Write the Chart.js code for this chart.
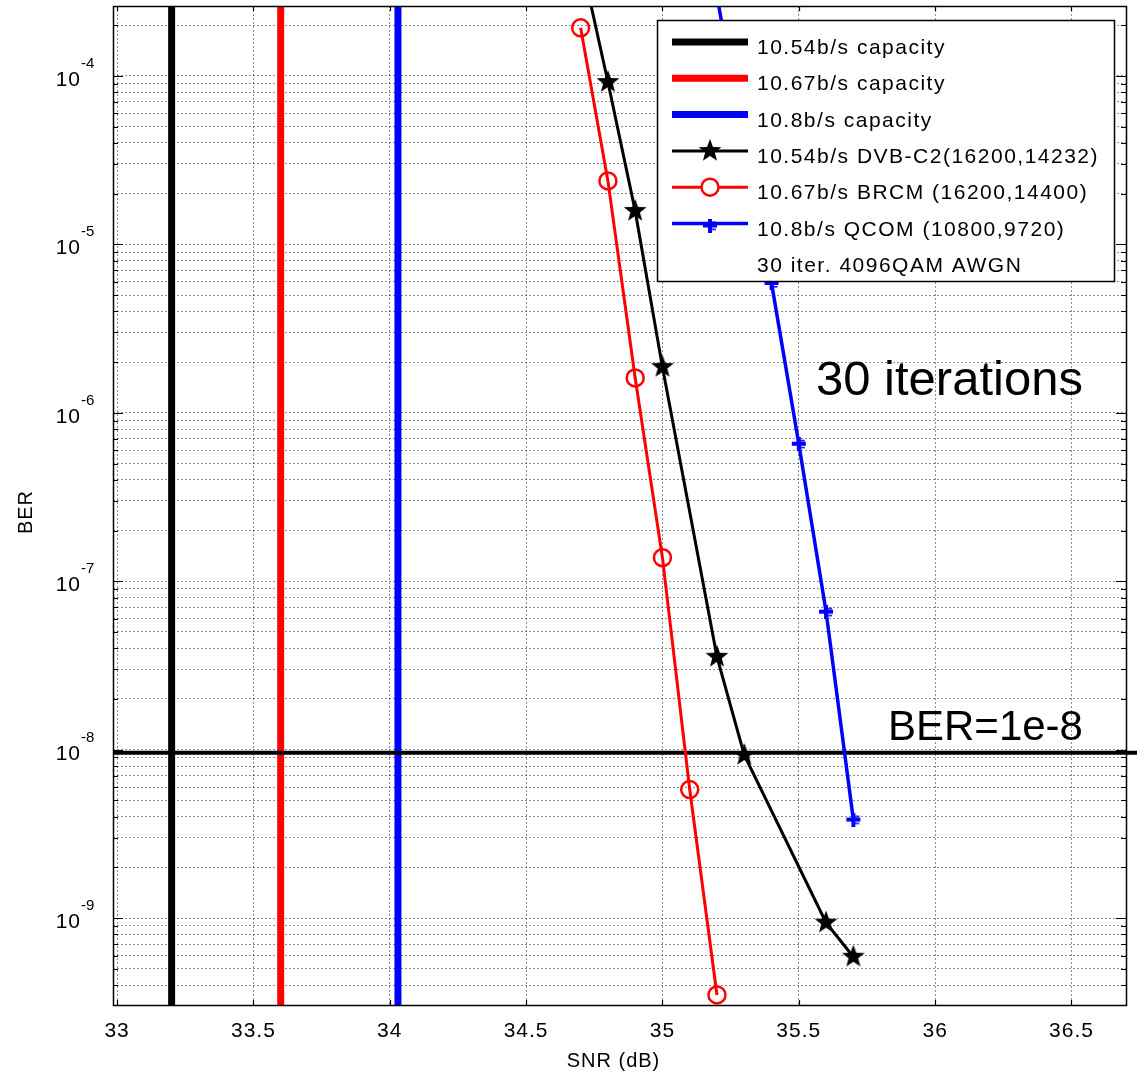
<!DOCTYPE html>
<html lang="en">
<head>
<meta charset="UTF-8">
<title>BER vs SNR - 4096QAM AWGN</title>
<script src="https://cdn.jsdelivr.net/npm/chart.js"></script>
<style>
  html, body { margin: 0; padding: 0; background: #ffffff; }
  #wrap { width: 1137px; height: 1076px; }
</style>
</head>
<body>
<div id="wrap"><canvas id="berChart" width="1137" height="1076"></canvas></div>
<script>
// ---- data ----
const xTicks = [33, 33.5, 34, 34.5, 35, 35.5, 36, 36.5];
const xTickLabels = ['33', '33.5', '34', '34.5', '35', '35.5', '36', '36.5'];
const yMajorExps = [-4, -5, -6, -7, -8, -9];

const capacitySNR = [33.2, 33.6, 34.03];
const capacityLabels = ['10.54b/s capacity', '10.67b/s capacity', '10.8b/s capacity'];

const snrDVB = [34.7, 34.8, 34.9, 35.0, 35.2, 35.3, 35.6, 35.7];
const berDVB = [5e-4, 9.2e-5, 1.58e-5, 1.87e-6, 3.56e-8, 9.3e-9, 9.4e-10, 5.9e-10];

const snrBRCM = [34.7, 34.8, 34.9, 35.0, 35.1, 35.2];
const berBRCM = [1.93e-4, 2.38e-5, 1.61e-6, 1.38e-7, 5.8e-9, 3.5e-10];

const snrQCOM = [35.2, 35.3, 35.4, 35.5, 35.6, 35.7];
const berQCOM = [3e-4, 3.5e-5, 5.9e-6, 6.55e-7, 6.6e-8, 3.85e-9];

const berTarget = 9.6e-9;
const seriesLabels = ['10.54b/s DVB-C2(16200,14232)', '10.67b/s BRCM (16200,14400)', '10.8b/s QCOM (10800,9720)'];
const noteLabel = '30 iter. 4096QAM AWGN';

const X_MIN = 32.985, X_MAX = 36.70;
const Y_MIN = 3.05e-10, Y_MAX = 2.6e-4;
const FONT = "'Liberation Sans', Arial, sans-serif";

// ---- marker images ----
function makeStar(r, color) {
    const s = Math.ceil(r * 2 + 2);
    const c = document.createElement('canvas');
    c.width = s; c.height = s;
    const g = c.getContext('2d');
    g.fillStyle = color;
    g.beginPath();
    for (let i = 0; i < 10; i++) {
        const a = -Math.PI / 2 + i * Math.PI / 5;
        const rad = i % 2 === 0 ? r : r * 0.42;
        g.lineTo(s / 2 + rad * Math.cos(a), s / 2 + rad * Math.sin(a));
    }
    g.closePath();
    g.fill();
    return c;
}

function makePlus(color) {
    const c = document.createElement('canvas');
    c.width = 16; c.height = 14;
    const g = c.getContext('2d');
    g.fillStyle = color;
    g.fillRect(1, 5, 14, 4);   // horizontal arm
    g.fillRect(6, 0, 4, 14);   // vertical arm
    g.fillRect(10, 3, 4, 1.5);
    g.fillRect(10, 10, 4, 1.5);
    return c;
}

const starImg = makeStar(12, '#000000');
const plusImg = makePlus('#0000ff');

const toPts = (xs, ys) => xs.map((x, i) => ({ x: x, y: ys[i] }));

// y ticks: all decades plus minor ticks inside the range
function buildYTicks() {
    const out = [];
    for (let e = -11; e <= -3; e++) {
        for (let k = 1; k <= 9; k++) {
            const v = k * Math.pow(10, e);
            if (v >= Y_MIN && v <= Y_MAX) out.push({ value: v, major: k === 1 });
        }
    }
    return out;
}

const capColors = ['#000000', '#ff0000', '#0000ff'];

const datasets = [
    {
        label: seriesLabels[0], data: toPts(snrDVB, berDVB),
        borderColor: '#000000', borderWidth: 3, pointStyle: starImg,
        pointRadius: 12, tension: 0
    },
    {
        label: seriesLabels[1], data: toPts(snrBRCM, berBRCM),
        borderColor: '#ff0000', borderWidth: 3, pointStyle: 'circle',
        pointRadius: 8.5, pointBorderWidth: 2.5, pointBorderColor: '#ff0000',
        pointBackgroundColor: 'rgba(0,0,0,0)', tension: 0
    },
    {
        label: seriesLabels[2], data: toPts(snrQCOM, berQCOM),
        borderColor: '#0000ff', borderWidth: 3.5, pointStyle: plusImg,
        pointRadius: 8, tension: 0
    },
    {
        label: 'BER=1e-8', data: [{ x: X_MIN, y: berTarget }, { x: 36.76, y: berTarget }],
        borderColor: '#000000', borderWidth: 4, pointRadius: 0, clip: false
    }
];
capacitySNR.forEach((s, i) => {
    datasets.push({
        label: capacityLabels[i], data: [{ x: s, y: 1e-11 }, { x: s, y: 1e-2 }],
        borderColor: capColors[i], borderWidth: 7, pointRadius: 0
    });
});

// legend rows drawn inside the plot, MATLAB style
const legendRows = [
    { text: capacityLabels[0], color: '#000000', width: 7 },
    { text: capacityLabels[1], color: '#ff0000', width: 7 },
    { text: capacityLabels[2], color: '#0000ff', width: 7 },
    { text: seriesLabels[0], color: '#000000', width: 3, marker: 'star' },
    { text: seriesLabels[1], color: '#ff0000', width: 3, marker: 'circle' },
    { text: seriesLabels[2], color: '#0000ff', width: 3.5, marker: 'plus' },
    { text: noteLabel, color: null }
];

const matlabAxes = {
    id: 'matlabAxes',
    afterDraw(chart) {
        const ctx = chart.ctx;
        const area = chart.chartArea;
        const xs = chart.scales.x, ys = chart.scales.y;
        ctx.save();

        // axes box
        ctx.strokeStyle = '#000';
        ctx.lineWidth = 1.5;
        ctx.strokeRect(area.left + 0.5, area.top + 0.5, area.right - area.left, area.bottom - area.top);

        // inward ticks
        ctx.lineWidth = 1.2;
        ctx.beginPath();
        xTicks.forEach(v => {
            const px = Math.round(xs.getPixelForValue(v)) + 0.5;
            ctx.moveTo(px, area.bottom); ctx.lineTo(px, area.bottom - 5);
            ctx.moveTo(px, area.top); ctx.lineTo(px, area.top + 5);
        });
        buildYTicks().forEach(t => {
            const py = Math.round(ys.getPixelForValue(t.value)) + 0.5;
            const len = t.major ? 10 : 5;
            ctx.moveTo(area.left, py); ctx.lineTo(area.left + len, py);
            ctx.moveTo(area.right, py); ctx.lineTo(area.right - len, py);
        });
        ctx.stroke();

        // x tick labels
        ctx.fillStyle = '#000';
        ctx.font = '21px ' + FONT;
        ctx.textAlign = 'center';
        ctx.textBaseline = 'alphabetic';
        ctx.letterSpacing = '1px';
        xTicks.forEach((v, i) => {
            ctx.fillText(xTickLabels[i], xs.getPixelForValue(v), 1037);
        });

        // y tick labels 10^n
        yMajorExps.forEach(e => {
            const py = ys.getPixelForValue(Math.pow(10, e));
            ctx.font = '21px ' + FONT;
            ctx.textAlign = 'right';
            ctx.letterSpacing = '1px';
            ctx.fillText('10', 81, py + 10);
            ctx.font = '15px ' + FONT;
            ctx.textAlign = 'left';
            ctx.letterSpacing = '0px';
            ctx.fillText(String(e), 81, py - 8);
        });

        // axis titles
        ctx.font = '20px ' + FONT;
        ctx.letterSpacing = '1px';
        ctx.textAlign = 'center';
        ctx.fillText('SNR (dB)', (area.left + area.right) / 2 - 6, 1067);
        ctx.save();
        ctx.translate(32, 512);
        ctx.rotate(-Math.PI / 2);
        ctx.fillText('BER', 0, 0);
        ctx.restore();

        // annotations
        ctx.letterSpacing = '0px';
        ctx.textAlign = 'left';
        ctx.font = '49px ' + FONT;
        ctx.fillText('30 iterations', 816, 395);
        ctx.font = '42px ' + FONT;
        ctx.fillText('BER=1e-8', 888, 740);

        // legend box
        const lx = 657, ly = 20, lw = 457, lh = 261;
        ctx.fillStyle = '#fff';
        ctx.fillRect(lx, ly, lw, lh);
        ctx.strokeStyle = '#000';
        ctx.lineWidth = 1.5;
        ctx.strokeRect(lx + 0.5, ly + 0.5, lw, lh);

        legendRows.forEach((row, i) => {
            const cy = 42 + i * 36.3;
            if (row.color) {
                ctx.strokeStyle = row.color;
                ctx.lineWidth = row.width;
                ctx.beginPath();
                ctx.moveTo(672, cy); ctx.lineTo(748, cy);
                ctx.stroke();
                const mx = 710;
                if (row.marker === 'star') {
                    ctx.drawImage(starImg, mx - starImg.width / 2, cy - starImg.height / 2);
                } else if (row.marker === 'circle') {
                    ctx.lineWidth = 2.5;
                    ctx.fillStyle = '#fff';
                    ctx.beginPath();
                    ctx.arc(mx, cy, 8.5, 0, Math.PI * 2);
                    ctx.fill();
                    ctx.stroke();
                } else if (row.marker === 'plus') {
                    ctx.drawImage(plusImg, mx - plusImg.width / 2, cy - plusImg.height / 2 + 2);
                }
            }
            ctx.fillStyle = '#000';
            ctx.font = '21px ' + FONT;
            ctx.letterSpacing = '1.5px';
            ctx.textAlign = 'left';
            ctx.fillText(row.text, 757, cy + 12);
        });

        ctx.restore();
    }
};

const gridOpts = {
    color: 'rgba(0,0,0,0.45)',
    lineWidth: 1,
    drawTicks: false,
    tickLength: 0
};

new Chart(document.getElementById('berChart').getContext('2d'), {
    type: 'line',
    data: { datasets: datasets },
    options: {
        responsive: false,
        devicePixelRatio: 1,
        animation: false,
        events: [],
        layout: { autoPadding: false, padding: { left: 113, top: 6, right: 11, bottom: 71 } },
        plugins: { legend: { display: false }, tooltip: { enabled: false } },
        scales: {
            x: {
                type: 'linear', min: X_MIN, max: X_MAX,
                afterBuildTicks: axis => { axis.ticks = xTicks.map(v => ({ value: v })); },
                ticks: { display: false },
                grid: gridOpts,
                border: { display: false, dash: [2, 2] }
            },
            y: {
                type: 'logarithmic', min: Y_MIN, max: Y_MAX,
                afterBuildTicks: axis => { axis.ticks = buildYTicks().map(t => ({ value: t.value })); },
                ticks: { display: false },
                grid: gridOpts,
                border: { display: false, dash: [2, 2] }
            }
        }
    },
    plugins: [matlabAxes]
});
</script>
</body>
</html>
